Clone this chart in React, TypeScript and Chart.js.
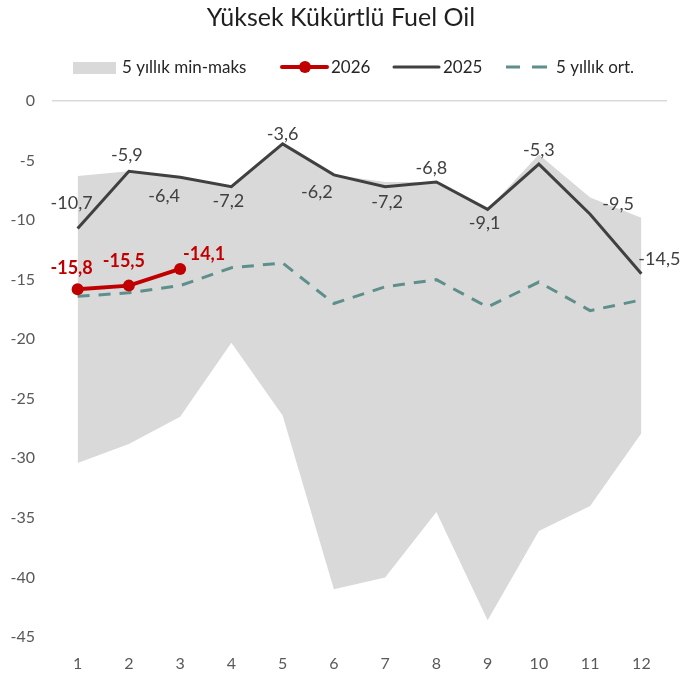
import React, { useEffect, useRef } from 'react';
import { Chart, registerables } from 'chart.js';

Chart.register(...registerables);

const TITLE = 'Yüksek Kükürtlü Fuel Oil';
const months = ['1', '2', '3', '4', '5', '6', '7', '8', '9', '10', '11', '12'];
const bandMax = [-6.3, -5.9, -6.4, -7.2, -3.6, -6.2, -6.8, -6.8, -9.1, -4.5, -8.1, -9.8];
const bandMin = [-30.4, -28.8, -26.5, -20.3, -26.4, -41.0, -40.0, -34.5, -43.6, -36.1, -34.0, -27.9];
const avg5 = [-16.4, -16.1, -15.5, -14.0, -13.6, -17.0, -15.6, -15.0, -17.3, -15.2, -17.6, -16.7];
const y2025 = [-10.7, -5.9, -6.4, -7.2, -3.6, -6.2, -7.2, -6.8, -9.1, -5.3, -9.5, -14.5];
const y2026: (number | null)[] = [-15.8, -15.5, -14.1, null, null, null, null, null, null, null, null, null];
const yTicks = [0, -5, -10, -15, -20, -25, -30, -35, -40, -45];

const legendLabels = ['5 yıllık min-maks', '2026', '2025', '5 yıllık ort.'];

const FONT = 'Lato, "Open Sans", sans-serif';
const RED = '#c00000';
const DARK = '#404040';
const TEAL = '#5f8f8b';
const BAND = '#d9d9d9';

// label offsets (dx, dy) in px relative to the point
const off2025 = [[-6, -25], [-2, -16], [-16, 19], [-3, 14], [0, -10], [-17, 17], [2, 15], [-5, -14], [-3, 14], [0, -14], [28, -10], [18, -15]];
const off2026 = [[-6, -21], [-5, -24], [24, -15]];

const fmt = (v: number) => v.toFixed(1).replace('.', ',');

const decorPlugin = {
  id: 'decor',
  afterDatasetsDraw(chart: any) {
    const ctx = chart.ctx;
    ctx.save();
    ctx.textAlign = 'center';
    ctx.textBaseline = 'middle';
    const m25 = chart.getDatasetMeta(3);
    ctx.font = `18px ${FONT}`;
    ctx.fillStyle = DARK;
    m25.data.forEach((pt: any, i: number) => {
      const o = off2025[i];
      ctx.fillText(fmt(y2025[i]), pt.x + o[0], pt.y + o[1]);
    });
    const m26 = chart.getDatasetMeta(4);
    ctx.font = `bold 18px ${FONT}`;
    ctx.fillStyle = RED;
    m26.data.forEach((pt: any, i: number) => {
      const v = y2026[i];
      if (v === null || v === undefined) return;
      const o = off2026[i];
      ctx.fillText(fmt(v), pt.x + o[0], pt.y + o[1]);
    });
    ctx.restore();
  },
  afterDraw(chart: any) {
    const ctx = chart.ctx;
    ctx.save();
    // title
    ctx.font = `25px ${FONT}`;
    ctx.fillStyle = '#1f1f1f';
    ctx.textAlign = 'center';
    ctx.textBaseline = 'middle';
    ctx.fillText(TITLE, 341, 18);

    // legend
    const ly = 68;
    ctx.font = `17px ${FONT}`;
    ctx.textAlign = 'left';
    ctx.fillStyle = BAND;
    ctx.fillRect(73, 62, 43, 12);
    ctx.fillStyle = '#262626';
    ctx.fillText(legendLabels[0], 122, ly);

    ctx.strokeStyle = RED;
    ctx.lineWidth = 4;
    ctx.lineCap = 'round';
    ctx.beginPath();
    ctx.moveTo(282, ly - 1);
    ctx.lineTo(327, ly - 1);
    ctx.stroke();
    ctx.fillStyle = RED;
    ctx.beginPath();
    ctx.arc(305, ly - 1, 6, 0, Math.PI * 2);
    ctx.fill();
    ctx.fillStyle = '#262626';
    ctx.fillText(legendLabels[1], 331, ly);

    ctx.strokeStyle = DARK;
    ctx.lineWidth = 3;
    ctx.beginPath();
    ctx.moveTo(394, ly - 1);
    ctx.lineTo(439, ly - 1);
    ctx.stroke();
    ctx.fillText(legendLabels[2], 443, ly);

    ctx.strokeStyle = TEAL;
    ctx.lineWidth = 3;
    ctx.lineCap = 'butt';
    ctx.beginPath();
    ctx.moveTo(506, ly - 1);
    ctx.lineTo(520, ly - 1);
    ctx.moveTo(532, ly - 1);
    ctx.lineTo(547, ly - 1);
    ctx.stroke();
    ctx.fillText(legendLabels[3], 556, ly);
    ctx.restore();
  },
};

export default function App() {
  const ref = useRef<HTMLCanvasElement>(null);
  useEffect(() => {
    document.body.style.margin = '0';
    if (!ref.current) return;
    const chart = new Chart(ref.current, {
      type: 'line',
      data: {
        labels: months,
        datasets: [
          {
            label: 'max',
            data: bandMax,
            borderWidth: 0,
            borderColor: 'transparent',
            backgroundColor: BAND,
            pointRadius: 0,
            fill: '+1',
            tension: 0,
            order: 10,
          },
          {
            label: 'min',
            data: bandMin,
            borderWidth: 0,
            borderColor: 'transparent',
            backgroundColor: BAND,
            pointRadius: 0,
            fill: false,
            tension: 0,
            order: 11,
          },
          {
            label: legendLabels[3],
            data: avg5,
            borderColor: TEAL,
            borderWidth: 3,
            borderDash: [12, 9],
            pointRadius: 0,
            fill: false,
            tension: 0,
            order: 3,
          },
          {
            label: legendLabels[2],
            data: y2025,
            borderColor: DARK,
            borderWidth: 3,
            pointRadius: 0,
            fill: false,
            tension: 0,
            order: 2,
          },
          {
            label: legendLabels[1],
            data: y2026,
            borderColor: RED,
            backgroundColor: RED,
            borderWidth: 4,
            pointRadius: 6,
            pointBackgroundColor: RED,
            pointBorderColor: RED,
            pointBorderWidth: 0,
            fill: false,
            tension: 0,
            spanGaps: false,
            order: 1,
          },
        ],
      },
      options: {
        responsive: false,
        animation: false,
        events: [],
        layout: { padding: { top: 101, right: 30, left: 0, bottom: 0 } },
        plugins: {
          legend: { display: false },
          title: { display: false },
          tooltip: { enabled: false },
        },
        scales: {
          x: {
            type: 'category',
            offset: true,
            grid: { display: false, drawTicks: false },
            border: { display: false },
            ticks: { color: '#595959', font: { family: FONT, size: 16 }, padding: 17 },
            afterFit: (s: any) => { s.height = 38; },
          },
          y: {
            min: -45,
            max: 0,
            afterBuildTicks: (s: any) => { s.ticks = yTicks.map((v) => ({ value: v })); },
            grid: {
              drawTicks: false,
              color: (c: any) => (c.tick && c.tick.value === 0 ? '#d9d9d9' : 'transparent'),
              lineWidth: 1.5,
            },
            border: { display: false },
            ticks: {
              color: '#595959',
              font: { family: FONT, size: 16 },
              padding: 17,
              callback: (v: any) => String(v),
            },
            afterFit: (s: any) => { s.width = 52; },
          },
        },
      },
      plugins: [decorPlugin],
    } as any);
    return () => chart.destroy();
  }, []);
  return (
    <div style={{ position: 'absolute', left: 0, top: 0, width: 697, height: 675 }}>
      <canvas ref={ref} width={697} height={675} />
    </div>
  );
}
